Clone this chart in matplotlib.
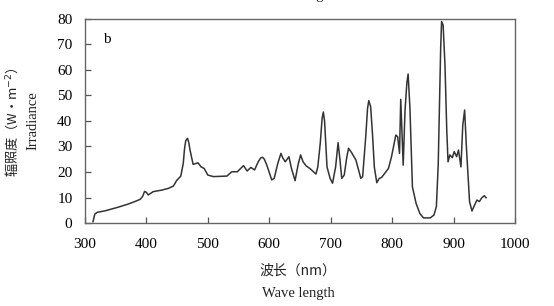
import matplotlib
matplotlib.use("Agg")
import matplotlib.pyplot as plt

# spectrum
wavelength = [313, 316, 320, 333, 354, 370, 381, 390, 394, 397, 400, 403, 411, 425, 436, 444, 449,
              456, 460, 462, 464, 467, 469, 471, 476, 484, 489, 494, 500, 509, 520, 531, 539, 548,
              558, 564, 570, 576, 582, 586, 589, 592, 596, 604, 608, 614, 619, 622, 626, 632, 636,
              642, 647, 651, 655, 660, 666, 676, 679, 683, 686, 688, 690, 694, 699, 703, 708, 712,
              715, 718, 722, 726, 729, 734, 741, 749, 752, 757, 760, 762, 765, 768, 771, 775, 779,
              783, 794, 799, 806, 809, 812, 814, 818, 821, 824, 826, 829, 833, 839, 845, 851, 862,
              868, 872, 875, 879, 880.5, 883, 886, 889, 891, 894, 898, 901, 905, 908, 912, 915,
              918, 921, 926, 930, 933, 938, 942, 946, 950, 953]
irradiance = [0.5, 3.5, 4.2, 4.8, 6.2, 7.4, 8.4, 9.3, 10.5, 12.4, 12.0, 11.0, 12.3, 12.9, 13.6,
              14.5, 16.6, 18.4, 23.4, 29.0, 32.3, 33.2, 31.5, 28.6, 23.0, 23.6, 22.0, 21.4, 18.8,
              18.2, 18.3, 18.4, 20.1, 20.1, 22.5, 20.4, 21.8, 20.8, 24.0, 25.5, 25.8, 25.0, 22.7,
              16.9, 17.5, 23.5, 27.3, 25.5, 24.0, 26.0, 21.5, 16.6, 23.0, 26.7, 24.0, 22.4, 21.4,
              19.2, 22.0, 31.3, 41.0, 43.5, 40.0, 22.0, 17.5, 15.6, 22.0, 31.5, 25.0, 17.5, 18.8,
              25.5, 29.3, 27.6, 24.7, 17.5, 18.2, 33.8, 45.0, 48.0, 45.6, 35.0, 22.0, 15.8, 17.5,
              17.9, 21.4, 26.0, 34.5, 33.8, 27.3, 48.5, 22.7, 44.3, 55.0, 58.4, 45.0, 14.2, 7.7,
              3.8, 2.0, 2.0, 3.1, 6.4, 22.7, 68.5, 79.0, 77.6, 62.0, 35.8, 24.0, 26.7, 25.6, 28.0,
              26.0, 28.6, 22.0, 38.4, 44.3, 29.3, 8.4, 4.7, 6.4, 9.0, 8.4, 9.9, 10.7, 9.9]

x_ticks = [300, 400, 500, 600, 700, 800, 900, 1000]
y_ticks = [0, 10, 20, 30, 40, 50, 60, 70, 80]

serif = ["Liberation Serif", "DejaVu Serif"]
cjk = ["Noto Sans CJK SC", "DejaVu Sans"]

fig = plt.figure(figsize=(5.54, 3.06), dpi=100)
ax = fig.add_axes([0.1534, 0.2712, 0.7762, 0.6668])

ax.plot(wavelength, irradiance, color="#333333", lw=1.1)

ax.set_xlim(300, 1000)
ax.set_ylim(0, 80)
ax.set_xticks(x_ticks)
ax.set_yticks(y_ticks)
ax.tick_params(direction="in", length=4, width=0.9, color="#555555",
               labelsize=11, top=False, right=False)
ax.tick_params(axis="x", pad=11)
ax.tick_params(axis="y", pad=9)
for lab in ax.get_xticklabels() + ax.get_yticklabels():
    lab.set_family(serif)
for sp in ax.spines.values():
    sp.set_color("#666666")
    sp.set_linewidth(1.0)

ax.text(0.043, 0.9, "b", transform=ax.transAxes, fontsize=11, family=serif,
        va="center", ha="left")

# axis titles, chinese + english
fig.text(12 / 554, 1 - 122 / 306, "辐照度（W·m$^{-2}$）", rotation=90, ha="center", va="center",
         fontsize=9.5, family=cjk, color="#222222")
fig.text(33 / 554, 1 - 121 / 306, "Irradiance", rotation=90, ha="center", va="center",
         fontsize=10.5, family=serif, color="#222222")
fig.text(298 / 554, 1 - 271 / 306, "波长（nm）", ha="center", va="center",
         fontsize=10, family=cjk, color="#222222")
fig.text(298 / 554, 1 - 293 / 306, "Wave length", ha="center", va="center",
         fontsize=10.5, family=serif, color="#222222")
# clipped title of the panel above
fig.text(298 / 554, 1 + 1 / 306, "Wave length", ha="center", va="baseline",
         fontsize=10.5, family=serif, color="#222222")

fig.savefig("out.png", dpi=100)
